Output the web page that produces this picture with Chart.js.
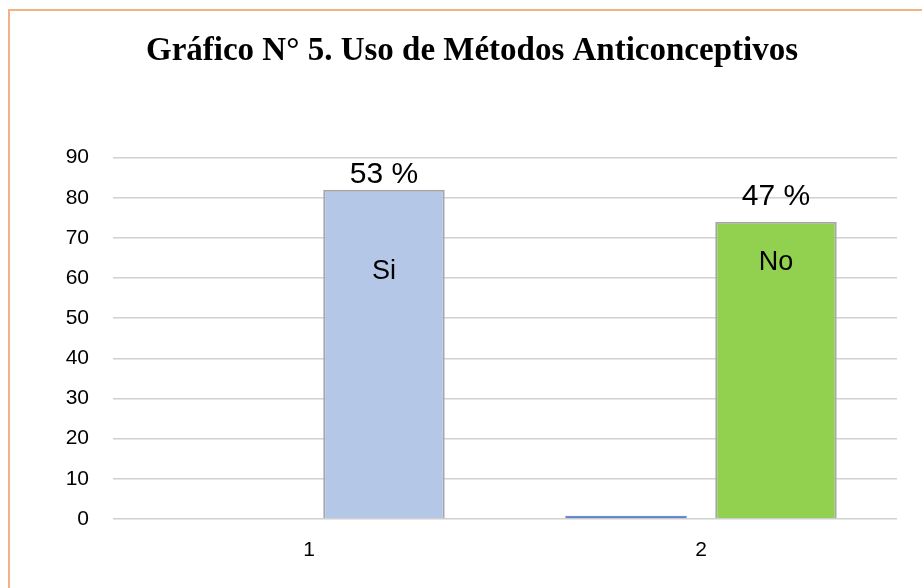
<!DOCTYPE html>
<html>
<head>
<meta charset="utf-8">
<script src="https://cdn.jsdelivr.net/npm/chart.js@4"></script>
<style>
  html, body { margin: 0; padding: 0; background: #fff; overflow: hidden; }
  #wrap { width: 922px; height: 588px; }
</style>
</head>
<body>
<div id="wrap"><canvas id="myChart" width="922" height="588"></canvas></div>
<script>
const titleText = 'Gráfico N° 5. Uso de Métodos Anticonceptivos';
const categories = ['1', '2'];
const smallSeries = [0, 0.8];
const mainSeries = [82, 74];
const percentLabels = ['53 %', '47 %'];
const answerLabels = ['Si', 'No'];
const yTicks = [0, 90, 10]; // min, max, step

// label placement, px relative to bar top
const pctLift = [15, 25];
const innerDrop = [82, 41];

const frameAndLabels = {
    id: 'frameAndLabels',
    beforeDraw(chart) {
        const ctx = chart.ctx;
        ctx.save();
        ctx.fillStyle = '#fff';
        ctx.fillRect(0, 0, chart.width, chart.height);
        ctx.strokeStyle = '#F4B183';
        ctx.lineWidth = 2;
        ctx.beginPath();
        ctx.moveTo(9, chart.height);
        ctx.lineTo(9, 10);
        ctx.lineTo(chart.width, 10);
        ctx.stroke();
        ctx.restore();
    },
    afterDatasetsDraw(chart) {
        const ctx = chart.ctx;
        const meta = chart.getDatasetMeta(1);
        ctx.save();
        ctx.fillStyle = '#000';
        ctx.textAlign = 'center';
        ctx.textBaseline = 'middle';
        meta.data.forEach((bar, i) => {
            ctx.font = '30px "Liberation Sans", Arial, sans-serif';
            ctx.fillText(percentLabels[i], bar.x, bar.y - pctLift[i]);
            ctx.font = '27px "Liberation Sans", Arial, sans-serif';
            ctx.fillText(answerLabels[i], bar.x, bar.y + innerDrop[i]);
        });
        ctx.restore();
    }
};

function initChart(target) {
    const data = {
        labels: categories,
        datasets: [{
            label: 'Serie 1',
            data: smallSeries,
            backgroundColor: '#5B83CC',
            borderColor: '#4472C4',
            borderWidth: 1
        }, {
            label: 'Serie 2',
            data: mainSeries,
            backgroundColor: ['#B4C7E7', '#92D050'],
            borderColor: '#A6A6A6',
            borderWidth: 2
        }]
    };

    const config = {
        type: 'bar',
        data: data,
        plugins: [frameAndLabels],
        options: {
            responsive: false,
            animation: false,
            categoryPercentage: 0.765,
            barPercentage: 0.81,
            layout: {
                padding: { left: 47, right: 25, top: 0, bottom: 25 }
            },
            plugins: {
                legend: { display: false },
                tooltip: { enabled: false },
                title: {
                    display: true,
                    text: titleText,
                    color: '#000',
                    font: { family: '"Liberation Serif", "Times New Roman", serif', size: 33, weight: 'bold' },
                    padding: { top: 32, bottom: 86 }
                }
            },
            scales: {
                x: {
                    grid: { display: false, drawTicks: false },
                    border: { display: false },
                    ticks: {
                        color: '#000',
                        padding: 19,
                        font: { family: '"Liberation Sans", Arial, sans-serif', size: 21 }
                    },
                    afterFit: (scale) => { scale.height = 44; }
                },
                y: {
                    min: yTicks[0],
                    max: yTicks[1],
                    grid: { color: '#D0D0D0', lineWidth: 1.5, drawTicks: false },
                    border: { display: false },
                    ticks: {
                        stepSize: yTicks[2],
                        color: '#000',
                        padding: 24,
                        font: { family: '"Liberation Sans", Arial, sans-serif', size: 21 }
                    },
                    afterFit: (scale) => { scale.width = 66; }
                }
            }
        }
    };

    return new Chart(target, config);
}

const chart = initChart(document.querySelector('#myChart'));
</script>
</body>
</html>
